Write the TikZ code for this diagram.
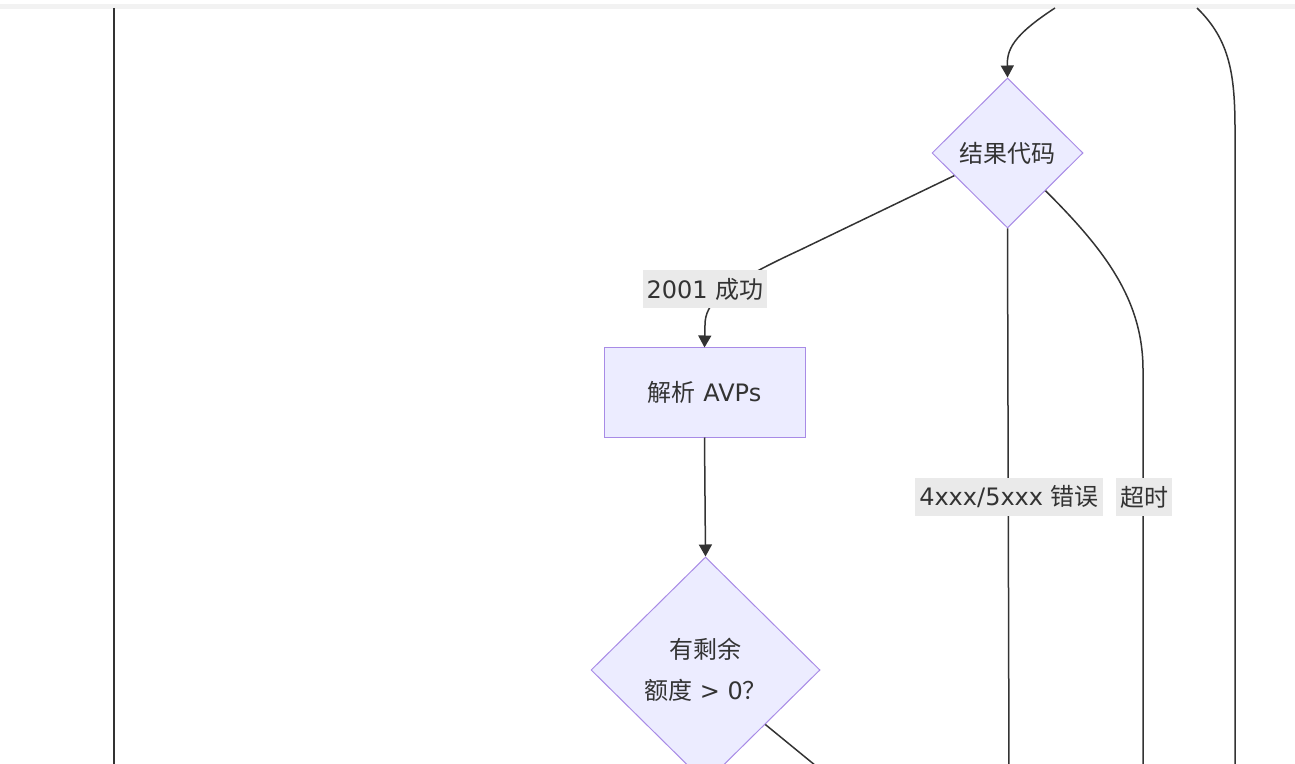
\documentclass[tikz,border=0pt]{standalone}
\usepackage{fontspec}
\setmainfont{DejaVu Sans}
\newfontfamily\cjk{Noto Sans CJK SC}
\usetikzlibrary{shapes.geometric,arrows.meta,calc}
\definecolor{nodefill}{HTML}{ECECFF}
\definecolor{nodeline}{HTML}{A88BE6}
\definecolor{edgecol}{HTML}{333333}
\definecolor{lblbg}{HTML}{EAEAEA}
\definecolor{txt}{HTML}{333333}
\begin{document}
\begin{tikzpicture}[x=0.5pt,y=-0.5pt,
  font=\fontsize{12pt}{20.5pt}\selectfont, text=txt,
  proc/.style={rectangle,draw=nodeline,fill=nodefill,line width=0.5pt,
    minimum width=100.5pt,minimum height=44.5pt,inner sep=0pt},
  decision/.style={diamond,draw=nodeline,fill=nodefill,line width=0.5pt,
    inner sep=0pt,align=center},
  lbl/.style={fill=lblbg,inner xsep=2pt,inner ysep=0pt,minimum height=19pt,text=txt},
  link/.style={draw=edgecol,line width=0.75pt},
  arr/.style={link,-{Triangle[length=6pt,width=6.5pt]}}]
\useasboundingbox (0,0) rectangle (1295,764);
\clip (0,0) rectangle (1295,764);
\fill[gray!10] (0,4) rectangle (1295,9);

% nodes
\node[decision,minimum width=75.5pt,minimum height=75pt] (d1) at (1007.5,153) {{\cjk 结果代码}};
\node[proc] (box) at (704.5,392.5) {{\cjk 解析} AVPs};
\node[decision,minimum width=114.5pt,minimum height=113pt] (d2) at (705.5,670)
  {{\cjk 有剩余}\\{\cjk 额度} > 0{\cjk ？}};

% free ends
\coordinate (inA) at (1055,8);
\coordinate (inB) at (1197,8);
\coordinate (leftTop) at (114,8);
\coordinate (leftBot) at (114,775);
\coordinate (d1a) at ($(d1.west)!0.3!(d1.south)$);
\coordinate (d1b) at ($(d1.east)!0.5!(d1.south)$);
\coordinate (d2a) at ($(d2.east)!0.48!(d2.south)$);
\coordinate (d2end) at ($(d2a)+(55,45)$);
\coordinate (d1end) at (1009,775);
\coordinate (toEnd) at (1143,775);
\coordinate (rEnd) at (1235,775);

% connectors
\draw[link] (leftTop) -- (leftBot);
\draw[arr] (inA) .. controls (1012,36) and (1007,50) .. (d1.north);
\draw[link] (inB) .. controls (1230,40) and (1235,75) .. (1235,130) -- (rEnd);
\draw[arr] (d1a) -- (800,250) .. controls (722,286) and (705,303) .. (705,325) -- (box.north);
\draw[arr] (box.south) -- (d2.north);
\draw[link] (d2a) -- (d2end);
\draw[link] (d1.south) -- (d1end);
\draw[link] (d1b) .. controls (1105,250) and (1143,300) .. (1143,370) -- (toEnd);

% edge labels
\node[lbl] (l1) at (705,289) {2001 {\cjk 成功}};
\node[lbl] (l2) at (1009,497) {4xxx/5xxx {\cjk 错误}};
\node[lbl] (l3) at (1144,497) {{\cjk 超时}};
\end{tikzpicture}
\end{document}
